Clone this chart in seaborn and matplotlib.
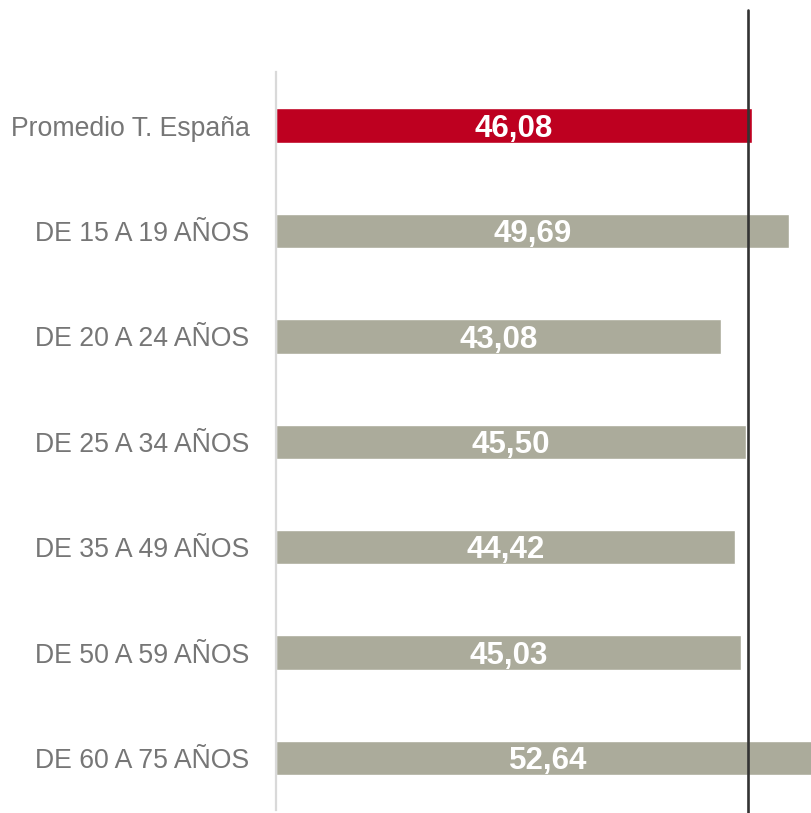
import pandas as pd
import matplotlib.pyplot as plt
import seaborn as sns

categorias = ["Promedio T. España", "DE 15 A 19 AÑOS", "DE 20 A 24 AÑOS",
              "DE 25 A 34 AÑOS", "DE 35 A 49 AÑOS", "DE 50 A 59 AÑOS",
              "DE 60 A 75 AÑOS"]
valores = [46.08, 49.69, 43.08, 45.50, 44.42, 45.03, 52.64]
etiquetas = ["46,08", "49,69", "43,08", "45,50", "44,42", "45,03", "52,64"]
colores = ["#BE0020", "#ABAB9B", "#ABAB9B", "#ABAB9B", "#ABAB9B", "#ABAB9B", "#ABAB9B"]
referencia = 45.72

df = pd.DataFrame({"grupo": categorias, "valor": valores})

sns.set_style("white")
plt.rcParams['font.family'] = ['Liberation Sans', 'DejaVu Sans']

fig = plt.figure(figsize=(8.12, 8.13), dpi=100)
ax = fig.add_axes([276 / 812, 1 - 810 / 813, 536 / 812, 738 / 813])

sns.barplot(data=df, x="valor", y="grupo", hue="grupo", palette=colores,
            legend=False, width=0.325, saturation=1, ax=ax, order=categorias)

ax.set_xlim(0, 51.89)
ax.set_ylim(6.493, -0.508)

for i, (v, t) in enumerate(zip(valores, etiquetas)):
    ax.text(v / 2, i + 0.03, t, ha="center", va="center", color="white",
            fontsize=22.5, fontweight="bold", clip_on=False)

# línea del promedio
ax.axvline(referencia, ymin=-0.004, ymax=1.084, color="#333333", lw=1.9,
           clip_on=False, zorder=5)

ax.set_xlabel("")
ax.set_ylabel("")
ax.set_xticks([])
ax.tick_params(axis="y", length=0, pad=19, labelsize=19.2, labelcolor="#767676")
for s in ["top", "right", "bottom"]:
    ax.spines[s].set_visible(False)
ax.spines["left"].set_color("#D9D9D9")
ax.spines["left"].set_linewidth(1.6)

fig.savefig("out.png", dpi=100)
